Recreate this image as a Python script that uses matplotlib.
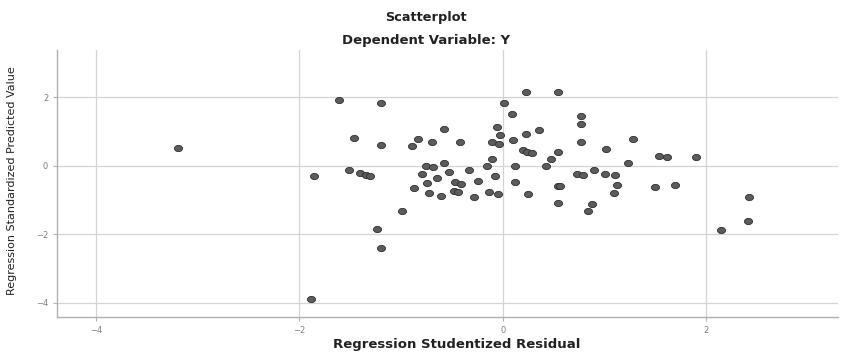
import numpy as np
import matplotlib
matplotlib.use("Agg")
import matplotlib.pyplot as plt
from matplotlib.path import Path

residual = [-3.19, -1.89, -1.86, -1.61, -1.20, -1.46, -1.20, -1.51, -1.40, -1.35,
            -1.31, -1.24, -1.20, -0.99, -0.87, -0.83, -0.89, -0.70, -0.76, -0.79,
            -0.75, -0.73, 0.23, 0.54, 0.01, 0.09, -0.06, -0.58, -0.03, 0.23,
            0.36, -0.42, -0.11, -0.04, 0.10, 0.20, 0.24, 0.29, 0.54, 0.47,
            0.42, 0.12, -0.11, -0.16, -0.58, -0.69, -0.53, -0.33, -0.65, -0.47,
            -0.41, -0.24, -0.08, 0.12, 0.54, -0.61, -0.48, -0.44, -0.28, -0.14,
            -0.05, 0.25, 0.54, 0.77, 0.77, 0.77, 1.28, 1.01, 1.23, 1.53,
            1.61, 0.90, 0.73, 0.79, 1.00, 1.10, 1.12, 0.56, 1.50, 1.69,
            1.09, 0.88, 0.84, 1.90, 2.42, 2.41, 2.14]
predicted = [0.53, -3.90, -0.31, 1.92, 1.83, 0.82, 0.61, -0.12, -0.21, -0.26,
             -0.30, -1.85, -2.40, -1.31, -0.65, 0.79, 0.59, 0.70, 0.01, -0.23,
             -0.51, -0.78, 2.15, 2.15, 1.83, 1.53, 1.15, 1.09, 0.89, 0.92,
             1.04, 0.70, 0.69, 0.64, 0.76, 0.45, 0.42, 0.39, 0.42, 0.20,
             0.01, 0.01, 0.20, -0.01, 0.09, -0.04, -0.18, -0.12, -0.36, -0.48,
             -0.54, -0.44, -0.31, -0.48, -0.58, -0.87, -0.74, -0.77, -0.90, -0.76,
             -0.83, -0.83, -1.07, 1.46, 1.22, 0.71, 0.79, 0.50, 0.08, 0.30,
             0.26, -0.12, -0.24, -0.28, -0.23, -0.26, -0.56, -0.60, -0.63, -0.56,
             -0.80, -1.11, -1.33, 0.27, -0.90, -1.62, -1.87]

x_ticks = [-4, -2, 0, 2]
y_ticks = [-4, -2, 0, 2]

fig = plt.figure(figsize=(8.41, 3.56), dpi=100)
ax = fig.add_axes([0.068, 0.110, 0.928, 0.750])

# slightly wide elliptical marker
t = np.linspace(0, 2 * np.pi, 40)
ell = Path(np.column_stack([1.3 * np.cos(t), np.sin(t)]), closed=True)

ax.scatter(residual, predicted, marker=ell, s=34, facecolor="#5c5c5c",
           edgecolor="#2e2e2e", linewidths=0.6, zorder=3)

ax.set_xlim(-4.38, 3.29)
ax.set_ylim(-4.41, 3.39)
ax.set_xticks(x_ticks)
ax.set_yticks(y_ticks)
ax.grid(True, color="#d4d4d4", linewidth=0.9)
ax.set_axisbelow(True)
for s in ["top", "right"]:
    ax.spines[s].set_visible(False)
for s in ["left", "bottom"]:
    ax.spines[s].set_color("#b0b0b0")
    ax.spines[s].set_linewidth(1.0)
ax.tick_params(axis="both", labelsize=6, colors="#b0b0b0", labelcolor="#808080",
               length=3, width=0.8)

ax.set_xlabel("Regression Studentized Residual", fontsize=9.5, fontweight="bold",
              color="#222222")
ax.xaxis.set_label_coords(0.512, -0.080)
ax.set_ylabel("Regression Standardized Predicted Value", fontsize=8.0,
              color="#222222")
ax.yaxis.set_label_coords(-0.052, 0.51)

fig.text(0.507, 0.952, "Scatterplot", ha="center", va="center",
         fontsize=9.3, fontweight="bold", color="#222222")
fig.text(0.507, 0.885, "Dependent Variable: Y", ha="center", va="center",
         fontsize=9.5, fontweight="bold", color="#222222")

fig.savefig("out.png", dpi=100)
